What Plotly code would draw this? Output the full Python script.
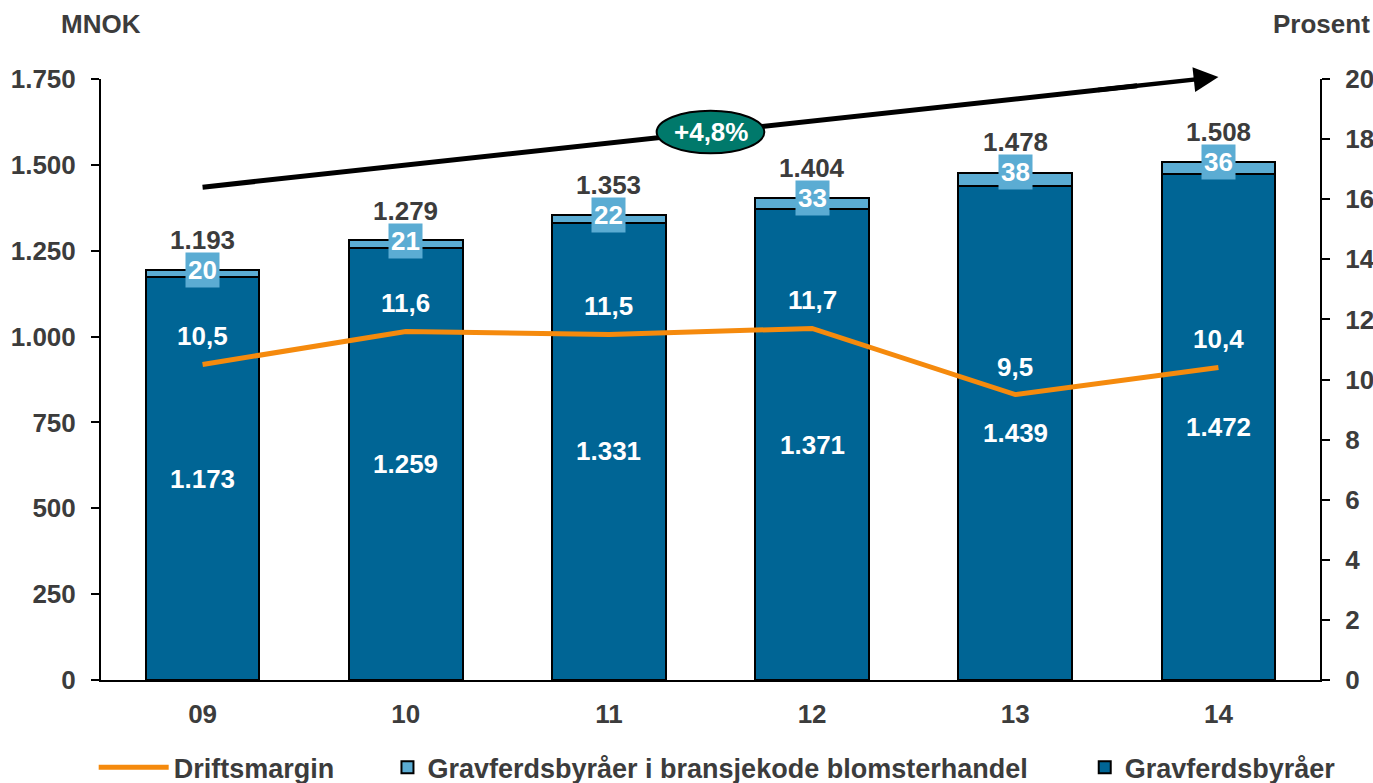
import plotly.graph_objects as go

# ---- data ----
years = ["09", "10", "11", "12", "13", "14"]
gravferd = [1173, 1259, 1331, 1371, 1439, 1472]
blomster = [20, 21, 22, 33, 38, 36]
totals = [1193, 1279, 1353, 1404, 1478, 1508]
driftsmargin = [10.5, 11.6, 11.5, 11.7, 9.5, 10.4]
left_ticks = [0, 250, 500, 750, 1000, 1250, 1500, 1750]
right_ticks = [0, 2, 4, 6, 8, 10, 12, 14, 16, 18, 20]
cagr_text = "+4,8%"
trend_start = 1435
trend_end = 1756

# ---- style ----
DARK = "#006595"
LIGHT = "#5BACD3"
ORANGE = "#F58A0D"
GREY = "#3C3C3C"
TEAL = "#00796B"
FONT = "Liberation Sans, Arial, sans-serif"
FS = 26
LFS = 27


def thou(v):
    return f"{v:,}".replace(",", ".")


def dec(v):
    return f"{v:.1f}".replace(".", ",")


x = list(range(len(years)))

fig = go.Figure()
fig.add_trace(go.Bar(
    x=x, y=gravferd, name="Gravferdsbyråer", marker=dict(color=DARK, line=dict(color="black", width=2)),
    width=0.56, legend="legend3", showlegend=True))
fig.add_trace(go.Bar(
    x=x, y=blomster, name="Gravferdsbyråer i bransjekode blomsterhandel",
    marker=dict(color=LIGHT, line=dict(color="black", width=2)), width=0.56, legend="legend2",
    showlegend=True))
fig.add_trace(go.Scatter(
    x=x, y=driftsmargin, yaxis="y2", mode="lines", name="Driftsmargin",
    line=dict(color=ORANGE, width=5), legend="legend", showlegend=True))

ann = []
for i in x:
    ann.append(dict(x=i, y=gravferd[i] / 2, text=thou(gravferd[i]), showarrow=False,
                    font=dict(color="white", size=FS, family=FONT, weight="bold")))
    ann.append(dict(x=i, y=totals[i], text=str(blomster[i]), showarrow=False, bgcolor=LIGHT,
                    borderpad=2, font=dict(color="white", size=FS, family=FONT, weight="bold")))
    ann.append(dict(x=i, y=totals[i], yshift=30, text=thou(totals[i]), showarrow=False,
                    font=dict(color=GREY, size=FS, family=FONT, weight="bold")))
    ann.append(dict(x=i, y=driftsmargin[i], yref="y2", yshift=28, text=dec(driftsmargin[i]), showarrow=False,
                    font=dict(color="white", size=FS, family=FONT, weight="bold")))

n = len(years) - 1
frac_end = 0.88
ann.append(dict(x=n, y=trend_end, ax=n * frac_end, ay=trend_start + (trend_end - trend_start) * frac_end,
                axref="x", ayref="y", xref="x", yref="y", text="", showarrow=True,
                arrowhead=2, arrowsize=1.1, arrowwidth=4.5, arrowcolor="black"))
mid = n / 2
ymid = trend_start + (trend_end - trend_start) * 0.5
ann.append(dict(x=mid, y=ymid, text=cagr_text, showarrow=False,
                font=dict(color="white", size=FS, family=FONT, weight="bold")))
ann.append(dict(x=0, y=1.092, xref="paper", yref="paper", text="MNOK", showarrow=False,
                xanchor="center", yanchor="middle", font=dict(color=GREY, size=FS, family=FONT, weight="bold")))
ann.append(dict(x=1.043, y=1.092, xref="paper", yref="paper", text="Prosent", showarrow=False,
                xanchor="right", yanchor="middle", font=dict(color=GREY, size=FS, family=FONT, weight="bold")))

shapes = [
    dict(type="line", xref="x", yref="y", x0=0, y0=trend_start, x1=n * 0.92,
         y1=trend_start + (trend_end - trend_start) * 0.92, line=dict(color="black", width=5), layer="above"),
    dict(type="circle", xref="x", yref="y", x0=mid - 0.265, x1=mid + 0.265, y0=ymid - 62, y1=ymid + 62,
         fillcolor=TEAL, line=dict(color="black", width=2), layer="above"),
]

tickfont = dict(color=GREY, size=FS, family=FONT, weight="bold")
legfont = dict(color=GREY, size=LFS, family=FONT, weight="bold")

fig.update_layout(
    width=1373, height=783,
    margin=dict(l=101, r=53, t=79, b=103, autoexpand=False),
    paper_bgcolor="white", plot_bgcolor="white",
    barmode="stack",
    showlegend=True,
    font=dict(family=FONT, color=GREY, size=FS),
    xaxis=dict(tickvals=x, ticktext=years, range=[-0.5, n + 0.5], showline=True, linecolor="black",
               linewidth=2, ticks="", tickfont=tickfont, showgrid=False, zeroline=False,
               ticklabelstandoff=10),
    yaxis=dict(range=[0, 1750], tickvals=left_ticks, ticktext=[thou(v) for v in left_ticks],
               showline=True, linecolor="black", linewidth=2, ticks="outside", ticklen=8, tickwidth=2,
               tickcolor="black", tickfont=tickfont, showgrid=False, zeroline=False, ticklabelstandoff=10),
    yaxis2=dict(range=[0, 20], tickvals=right_ticks, ticktext=[str(v) for v in right_ticks],
                overlaying="y", side="right", showline=True, linecolor="black", linewidth=2,
                ticks="outside", ticklen=8, tickwidth=2, tickcolor="black", tickfont=tickfont,
                showgrid=False, zeroline=False, ticklabelstandoff=10),
    legend=dict(x=-0.006, y=-0.146, xanchor="left", yanchor="middle", orientation="h", font=legfont,
                bgcolor="rgba(0,0,0,0)", itemwidth=70),
    legend2=dict(x=0.235, y=-0.146, xanchor="left", yanchor="middle", orientation="h", font=legfont,
                 bgcolor="rgba(0,0,0,0)"),
    legend3=dict(x=0.807, y=-0.146, xanchor="left", yanchor="middle", orientation="h", font=legfont,
                 bgcolor="rgba(0,0,0,0)"),
    annotations=ann,
    shapes=shapes,
)

fig.write_html("out.html", config={"displayModeBar": False},
               post_script="document.body.style.margin='0';document.body.style.overflow='hidden';")
